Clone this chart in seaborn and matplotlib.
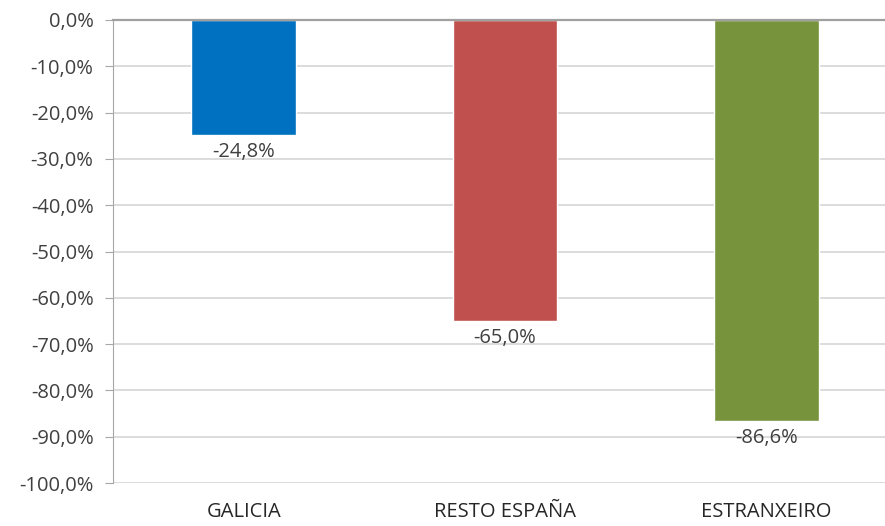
import pandas as pd
import matplotlib.pyplot as plt
import seaborn as sns
from matplotlib.ticker import FuncFormatter

categories = ["GALICIA", "RESTO ESPAÑA", "ESTRANXEIRO"]
values = [-24.8, -65.0, -86.6]
colors = ["#0070C0", "#C0504D", "#77933C"]
y_ticks = list(range(0, -101, -10))


def pct(v, pos=None):
    return f"{v:.1f}%".replace(".", ",")


def main():
    df = pd.DataFrame({"zona": categories, "valor": values})

    sns.set_style("white")
    plt.rcParams["font.family"] = ["Open Sans", "DejaVu Sans"]

    fig = plt.figure(figsize=(8.85, 5.26), dpi=100)
    # plot area runs a bit past the right edge, as in the original crop
    ax = fig.add_axes([113 / 885, 43 / 526, 784 / 885, 463 / 526])

    sns.barplot(data=df, x="zona", y="valor", hue="zona", palette=colors,
                width=0.4, legend=False, ax=ax, saturation=1)

    ax.set_ylim(-100, 0)
    ax.set_yticks(y_ticks)
    ax.yaxis.set_major_formatter(FuncFormatter(pct))
    ax.set_xlim(-0.5, 2.5)
    ax.grid(axis="y", color="#D9D9D9", linewidth=1.3)
    ax.set_axisbelow(True)

    for s in ["right", "bottom"]:
        ax.spines[s].set_visible(False)
    ax.spines["left"].set_color("#A6A6A6")
    ax.spines["top"].set_color("#A0A0A0")
    ax.spines["top"].set_linewidth(1.6)

    ax.tick_params(axis="y", length=6, color="#A6A6A6", labelsize=14.5,
                   labelcolor="#404040", pad=8, left=True)
    ax.tick_params(axis="x", length=0, labelsize=14.5, labelcolor="#262626", pad=14)
    ax.set_xlabel("")
    ax.set_ylabel("")

    for i, v in enumerate(values):
        ax.annotate(pct(v), (i, v), xytext=(0, -5), textcoords="offset points",
                    ha="center", va="top", fontsize=14.5, color="#404040")

    fig.savefig("out.png", dpi=100)
    plt.close(fig)


if __name__ == "__main__":
    main()
